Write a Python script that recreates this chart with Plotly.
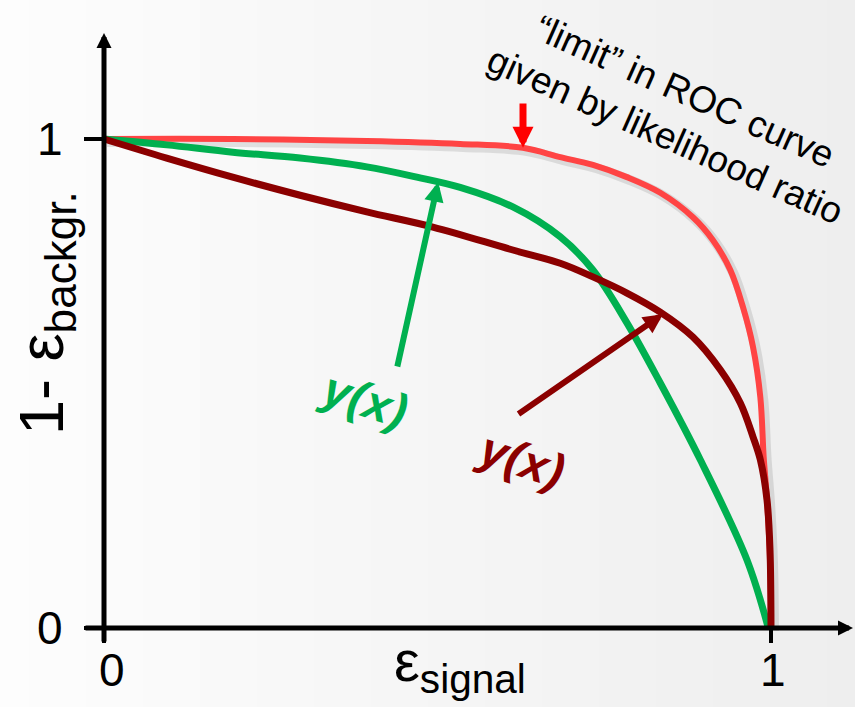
import numpy as np
import plotly.graph_objects as go

# ROC curves: signal efficiency vs background rejection
limit_x = [0.0, 0.193, 0.394, 0.534, 0.628, 0.684, 0.733, 0.784, 0.834, 0.883, 0.913, 0.939,
           0.958, 0.973, 0.984, 0.989, 0.994, 0.9985, 1.0]
limit_y = [1.0, 1.0, 0.996, 0.990, 0.982, 0.963, 0.947, 0.922, 0.890, 0.840, 0.793, 0.732,
           0.656, 0.575, 0.472, 0.350, 0.262, 0.139, 0.0]

green_x = [0.0, 0.094, 0.193, 0.294, 0.394, 0.469, 0.534, 0.613, 0.684, 0.733, 0.784, 0.834,
           0.894, 0.964, 0.996]
green_y = [1.0, 0.988, 0.973, 0.961, 0.943, 0.922, 0.901, 0.861, 0.800, 0.732, 0.624, 0.501,
           0.344, 0.139, 0.0]

dark_x = [0.0, 0.094, 0.193, 0.294, 0.394, 0.493, 0.613, 0.684, 0.733, 0.784, 0.834, 0.883,
          0.924, 0.954, 0.973, 0.984, 0.994, 0.9985, 1.0]
dark_y = [1.0, 0.961, 0.922, 0.885, 0.851, 0.820, 0.773, 0.746, 0.718, 0.685, 0.646, 0.595,
          0.528, 0.460, 0.391, 0.344, 0.262, 0.160, 0.0]

tick_values = [0, 1]
tick_labels = ["0", "1"]

W, H = 855, 707
# pixel <-> data mapping of the drawing area
X0PX, XSPAN = 104, 667
Y0PX, YSPAN = 628, 489


def fx(px):
    return (px - X0PX) / XSPAN


def fy(py):
    return (Y0PX - py) / YSPAN


xr = [fx(0), fx(W)]
yr = [fy(H), fy(0)]

RED = "#ff4444"
GREEN = "#00b050"
DARK = "#8b0000"
FONT = "Liberation Sans, Arial, sans-serif"
LINE_SHAPE = dict(shape="spline", smoothing=1.0)

fig = go.Figure()

# soft left-to-right background shading
fig.add_trace(go.Heatmap(
    x=[xr[0], xr[1]], y=[yr[0], yr[1]], z=[[0, 1], [0, 1]],
    colorscale=[[0, "#fdfdfd"], [1, "#eeeeee"]], zsmooth="best",
    showscale=False, hoverinfo="skip"))

# drop shadow under the likelihood-ratio curve
fig.add_trace(go.Scatter(
    x=np.array(limit_x) + 3 / XSPAN, y=np.array(limit_y) - 3 / YSPAN,
    mode="lines", line=dict(color="rgba(0,0,0,0.10)", width=10, **LINE_SHAPE),
    hoverinfo="skip", showlegend=False))
fig.add_trace(go.Scatter(
    x=limit_x, y=limit_y, mode="lines",
    line=dict(color=RED, width=6, **LINE_SHAPE), showlegend=False))
fig.add_trace(go.Scatter(
    x=green_x, y=green_y, mode="lines",
    line=dict(color=GREEN, width=7, **LINE_SHAPE), showlegend=False))
fig.add_trace(go.Scatter(
    x=dark_x, y=dark_y, mode="lines",
    line=dict(color=DARK, width=7, **LINE_SHAPE), showlegend=False))

annotations = []
shapes = []


def arrow(tip, tail, color, width, size):
    annotations.append(dict(
        x=tip[0], y=tip[1], ax=tail[0], ay=tail[1], xref="x", yref="y",
        axref="x", ayref="y", text="", showarrow=True, arrowhead=2,
        arrowwidth=width, arrowsize=size, arrowcolor=color, standoff=0))


# axes with arrow tips
arrow((0, fy(33)), (0, fy(643)), "black", 5, 0.6)
arrow((fx(853), 0), (fx(84), 0), "black", 5, 0.6)

# tick marks and labels
xlabel_px = {0: 112, 1: 773}
for v, lab in zip(tick_values, tick_labels):
    shapes.append(dict(type="line", x0=v, x1=v, y0=0, y1=fy(643),
                       line=dict(color="black", width=4)))
    shapes.append(dict(type="line", x0=fx(84), x1=0, y0=v, y1=v,
                       line=dict(color="black", width=4)))
    annotations.append(dict(x=fx(xlabel_px[v]), y=fy(670),
                            text=lab, showarrow=False, xanchor="center", yanchor="middle",
                            font=dict(family=FONT, size=46, color="black")))
    annotations.append(dict(x=fx(50), y=v, text=lab, showarrow=False,
                            xanchor="center", yanchor="middle",
                            font=dict(family=FONT, size=46, color="black")))

# axis titles
annotations.append(dict(x=fx(460), y=fy(665), text="ε<sub>signal</sub>", showarrow=False,
                        xanchor="center", yanchor="middle",
                        font=dict(family=FONT, size=58, color="black")))
annotations.append(dict(x=fx(45), y=fy(313), text="1- ε<sub>backgr.</sub>", showarrow=False,
                        textangle=-90, xanchor="center", yanchor="middle",
                        font=dict(family=FONT, size=63, color="black")))

# pointer to the likelihood-ratio limit
red_tip_x = fx(523)
red_tip_y = float(np.interp(red_tip_x, limit_x, limit_y))
arrow((red_tip_x, red_tip_y), (red_tip_x, fy(102)), "#ff0000", 7, 0.6)
annotations.append(dict(x=fx(675), y=fy(113), text="“limit” in ROC curve<br>given by likelihood ratio",
                        showarrow=False, textangle=24, align="center",
                        xanchor="center", yanchor="middle",
                        font=dict(family=FONT, size=37, color="black")))

# y(x) labels with pointers onto their curves
g_tip_x = 0.501
arrow((g_tip_x, float(np.interp(g_tip_x, green_x, green_y))), (fx(397), fy(368)), GREEN, 6, 0.65)
d_tip_x = 0.838
arrow((d_tip_x, float(np.interp(d_tip_x, dark_x, dark_y))), (fx(517), fy(415)), DARK, 6, 0.65)
annotations.append(dict(x=fx(364), y=fy(399), text="<b><i>y(x)</i></b>", showarrow=False,
                        textangle=18, xanchor="center", yanchor="middle",
                        font=dict(family=FONT, size=48, color=GREEN)))
annotations.append(dict(x=fx(521), y=fy(459), text="<b><i>y(x)</i></b>", showarrow=False,
                        textangle=18, xanchor="center", yanchor="middle",
                        font=dict(family=FONT, size=48, color=DARK)))

fig.update_layout(
    width=W, height=H, autosize=False,
    margin=dict(l=0, r=0, t=0, b=0, pad=0),
    paper_bgcolor="white", plot_bgcolor="white",
    xaxis=dict(range=xr, visible=False, fixedrange=True),
    yaxis=dict(range=yr, visible=False, fixedrange=True),
    shapes=shapes, annotations=annotations, showlegend=False)

fig.write_html("out.html")
